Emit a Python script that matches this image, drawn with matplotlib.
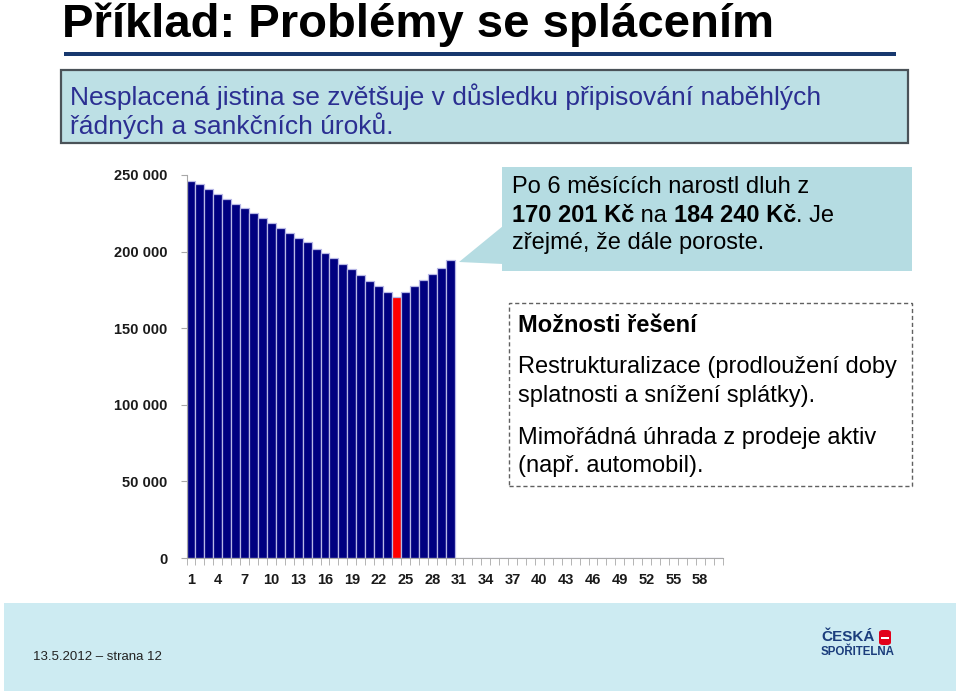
import numpy as np
import matplotlib
matplotlib.use("Agg")
import matplotlib.pyplot as plt
from matplotlib.patches import Rectangle, Polygon, FancyBboxPatch
from matplotlib.text import Annotation

# chart data
months = list(range(1, 61))
balance = [246300, 243900, 240700, 237600, 234500, 231300, 228300, 225000,
           221700, 218700, 215400, 212400, 209100, 206100, 201900, 198900,
           195600, 191700, 188400, 184500, 180600, 177300, 173400, 170201,
           173400, 177300, 181500, 185400, 189300, 194300] + [0] * 30
highlight_month = 24
y_ticks = [0, 50000, 100000, 150000, 200000, 250000]
y_tick_labels = ["0", "50 000", "100 000", "150 000", "200 000", "250 000"]
x_tick_months = list(range(1, 61, 3))

W, H = 960, 691
ARIAL = ["Liberation Sans", "DejaVu Sans"]

def fx(x):
    return x / W

def fy(y):
    return 1 - y / H

fig = plt.figure(figsize=(9.6, 6.91), dpi=100)

# title + rule
fig.text(fx(62), fy(37), "Příklad: Problémy se splácením", fontsize=34,
         fontweight="bold", family=ARIAL, va="baseline", ha="left")
fig.add_artist(Rectangle((fx(64), fy(56)), fx(896) - fx(64), 4 / H,
                         transform=fig.transFigure, color="#17386e", lw=0))

# subtitle box
fig.add_artist(Rectangle((fx(61), fy(143)), fx(908) - fx(61), 73 / H,
                         transform=fig.transFigure, facecolor="#bde0e5",
                         edgecolor="#4a5258", lw=1.6))
fig.text(fx(70), fy(97), "Nesplacená jistina se zvětšuje v důsledku připisování naběhlých",
         fontsize=19, family=ARIAL, color="#2b2f92", va="center")
fig.text(fx(70), fy(126), "řádných a sankčních úroků.",
         fontsize=19, family=ARIAL, color="#2b2f92", va="center")

# chart
ax = fig.add_axes([fx(186.5), fy(558), (722.5 - 186.5) / W, (558 - 175) / H])
colors = ["#ff0000" if m == highlight_month else "#000080" for m in months]
ax.bar(months, balance, width=1.0, color=colors, edgecolor="#b8b8e6", linewidth=0.9)
ax.set_xlim(0.5, 60.5)
ax.set_ylim(0, 250000)
ax.set_yticks(y_ticks)
ax.set_yticklabels(y_tick_labels)
ax.set_xticks(x_tick_months)
ax.set_xticklabels([str(m) for m in x_tick_months])
ax.set_xticks(np.arange(0.5, 61, 1), minor=True)
ax.tick_params(axis="x", which="major", length=0, pad=11, labelsize=10.5)
ax.tick_params(axis="x", which="minor", length=5, color="#a8a8a8", direction="out")
ax.tick_params(axis="y", length=4, color="#a8a8a8", pad=9.5, labelsize=10.5)
for lab in ax.get_xticklabels() + ax.get_yticklabels():
    lab.set_fontweight("bold")
    lab.set_family(ARIAL)
    lab.set_color("#1a1a1a")
for side in ["top", "right"]:
    ax.spines[side].set_visible(False)
ax.spines["left"].set_color("#a8a8a8")
ax.spines["bottom"].set_color("#a8a8a8")

# callout with pointer
callout_color = "#b5dce2"
fig.add_artist(Polygon([(fx(459), fy(262)), (fx(503), fy(226)), (fx(503), fy(264))],
                       closed=True, transform=fig.transFigure,
                       facecolor=callout_color, edgecolor="none"))
fig.add_artist(Rectangle((fx(502), fy(271)), fx(912) - fx(502), 104 / H,
                         transform=fig.transFigure, facecolor=callout_color,
                         edgecolor="none"))
fs = 17
fig.text(fx(512), fy(187), "Po 6 měsících narostl dluh z", fontsize=fs,
         family=ARIAL, va="center")
parts = [("170 201 Kč", "bold"), (" na ", "normal"), ("184 240 Kč", "bold"), (". Je", "normal")]
prev = fig.text(fx(512), fy(215), parts[0][0], fontsize=fs, family=ARIAL,
                fontweight=parts[0][1], va="center")
for txt, wt in parts[1:]:
    prev = fig.add_artist(Annotation(txt, xy=(1, 0), xycoords=prev, va="bottom",
                                     ha="left", fontsize=fs, family=ARIAL,
                                     fontweight=wt))
fig.text(fx(512), fy(243), "zřejmé, že dále poroste.", fontsize=fs,
         family=ARIAL, va="center")

# dashed options box
fig.add_artist(Rectangle((fx(509), fy(486)), fx(912) - fx(509), 183 / H,
                         transform=fig.transFigure, facecolor="white",
                         edgecolor="#606060", lw=1.0, linestyle=(0, (3, 2))))
fig.text(fx(518), fy(325), "Možnosti řešení", fontsize=fs, family=ARIAL,
         fontweight="bold", va="center")
options = ["Restrukturalizace (prodloužení doby", "splatnosti a snížení splátky).",
           "Mimořádná úhrada z prodeje aktiv", "(např. automobil)."]
option_y = [367, 396, 438, 466]
for txt, yy in zip(options, option_y):
    fig.text(fx(518), fy(yy), txt, fontsize=fs, family=ARIAL, va="center")

# footer band
fig.add_artist(Rectangle((fx(4), fy(691)), fx(956) - fx(4), 88 / H,
                         transform=fig.transFigure, facecolor="#cdebf2",
                         edgecolor="none"))
fig.text(fx(33), fy(657), "13.5.2012 – strana 12", fontsize=9.5, family=ARIAL,
         va="center", color="#222222")
fig.text(fx(821), fy(637), "ČESKÁ", fontsize=11, family=ARIAL, fontweight="bold",
         color="#1b3d7c", va="center")
fig.text(fx(821), fy(652), "SPOŘITELNA", fontsize=8.3, family=ARIAL, fontweight="bold",
         color="#1b3d7c", va="center")
fig.add_artist(FancyBboxPatch((fx(879), fy(645)), 12 / W, 15 / H,
                              boxstyle="round,pad=0,rounding_size=0.004",
                              transform=fig.transFigure, facecolor="#e2001a",
                              edgecolor="none"))
fig.add_artist(Rectangle((fx(881), fy(638.5)), 8 / W, 2 / H,
                         transform=fig.transFigure, facecolor="white", edgecolor="none"))

fig.savefig("out.png", dpi=100)
